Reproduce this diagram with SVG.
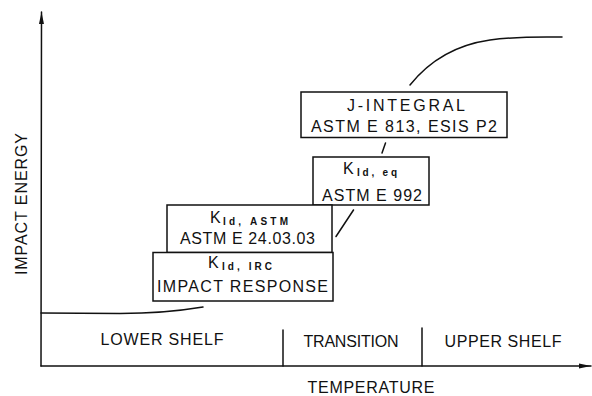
<svg xmlns="http://www.w3.org/2000/svg" width="592" height="396" viewBox="0 0 592 396">
<style>
  .ln{fill:none;stroke:#111;stroke-width:1.5;stroke-linecap:round}
  .box{fill:#fff;stroke:#111;stroke-width:1.5}
  text{font-family:"Liberation Sans",Arial,sans-serif;fill:#111}
  .t{font-size:16px}
  .k{font-size:16px}
  .s{font-size:10px;font-weight:bold}
</style>
<defs>
  <marker id="ah" viewBox="0 0 12 6" refX="12" refY="3" markerWidth="12" markerHeight="6" markerUnits="userSpaceOnUse" orient="auto">
    <path d="M0,0.5 L12,3 L0,5.5 Z" fill="#111"/>
  </marker>
</defs>
<rect width="592" height="396" fill="#fff"/>
<g id="axes">
  <line class="ln" x1="41" y1="366" x2="41.5" y2="12" marker-end="url(#ah)"/>
  <line class="ln" x1="41" y1="366" x2="591" y2="366" marker-end="url(#ah)"/>
  <line class="ln" x1="283" y1="330" x2="283" y2="366"/>
  <line class="ln" x1="422" y1="328" x2="422" y2="366"/>
  <text class="t" transform="translate(27,204) rotate(-90)" text-anchor="middle" textLength="142" lengthAdjust="spacing">IMPACT ENERGY</text>
  <text class="t" x="371" y="393" text-anchor="middle" textLength="127" lengthAdjust="spacing">TEMPERATURE</text>
  <text class="t" x="162" y="345" text-anchor="middle" textLength="123" lengthAdjust="spacing">LOWER SHELF</text>
  <text class="t" x="351" y="347" text-anchor="middle" textLength="95" lengthAdjust="spacing">TRANSITION</text>
  <text class="t" x="503" y="347" text-anchor="middle" textLength="117" lengthAdjust="spacing">UPPER SHELF</text>
</g>
<g id="connectors">
  <path class="ln" d="M41,313 L120,313.5 C160,313.5 185,310 203,307"/>
  <path class="ln" d="M410,85 C430,60 455,45 490,40 C520,36 545,37 562,37"/>
  <line class="ln" x1="385.5" y1="143" x2="382" y2="153"/>
  <line class="ln" x1="353.5" y1="210" x2="336" y2="236.5"/>
</g>
<g id="j-integral">
  <rect class="box" x="301" y="92" width="206" height="45.5"/>
  <text class="t" x="406" y="111" text-anchor="middle" textLength="118" lengthAdjust="spacing">J-INTEGRAL</text>
  <text class="t" x="404" y="132" text-anchor="middle" textLength="186" lengthAdjust="spacing">ASTM E 813, ESIS P2</text>
</g>
<g id="kid-eq">
  <rect class="box" x="313" y="157" width="116" height="48"/>
  <text class="k" x="343" y="174">K</text>
  <text class="s" x="357" y="176" textLength="40" lengthAdjust="spacing">Id, eq</text>
  <text class="t" x="372" y="201" text-anchor="middle" textLength="100" lengthAdjust="spacing">ASTM E 992</text>
</g>
<g id="kid-astm">
  <rect class="box" x="167" y="205" width="165" height="47.5"/>
  <text class="k" x="210" y="223">K</text>
  <text class="s" x="223" y="225" textLength="65" lengthAdjust="spacing">Id, ASTM</text>
  <text class="t" x="247.5" y="244" text-anchor="middle" textLength="135" lengthAdjust="spacing">ASTM E 24.03.03</text>
</g>
<g id="kid-irc">
  <rect class="box" x="153" y="252.5" width="180" height="48.5"/>
  <text class="k" x="208" y="268">K</text>
  <text class="s" x="222" y="270" textLength="50" lengthAdjust="spacing">Id, IRC</text>
  <text class="t" x="242.5" y="292" text-anchor="middle" textLength="171" lengthAdjust="spacing">IMPACT RESPONSE</text>
</g>
</svg>
